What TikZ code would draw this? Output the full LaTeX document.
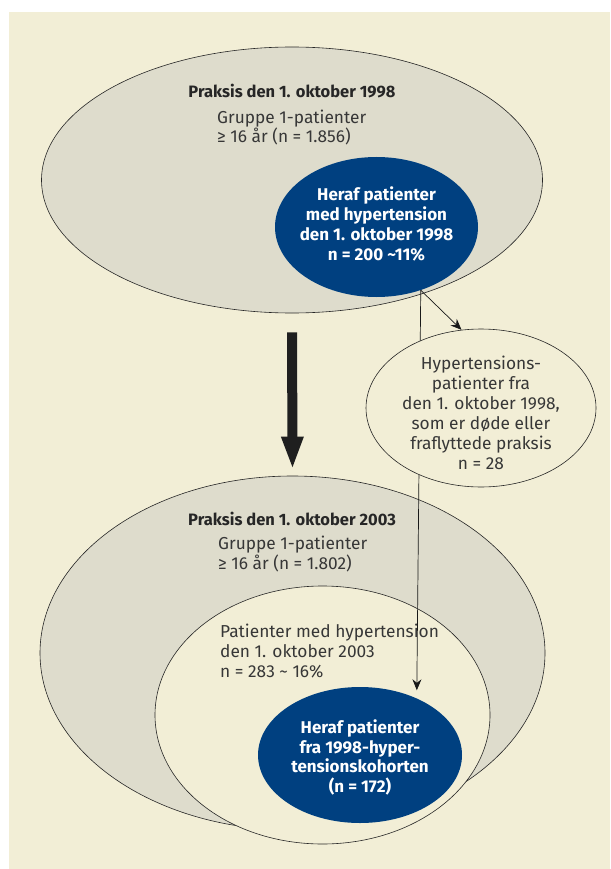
\documentclass[tikz,border=0pt]{standalone}
\usepackage{fontspec}
\setmainfont{Fira Sans}
\usetikzlibrary{shapes.geometric,arrows.meta}
\definecolor{creambg}{RGB}{242,238,214}
\definecolor{grayfill}{RGB}{222,220,204}
\definecolor{navy}{RGB}{0,64,128}
\definecolor{txtgray}{RGB}{55,55,55}

\begin{document}
\begin{tikzpicture}[x=1pt, y=-1pt,
outernode/.style={ellipse, draw=black!85, line width=0.6pt, fill=grayfill, inner sep=0pt},
innernode/.style={ellipse, draw=black!85, line width=0.6pt, fill=creambg, inner sep=0pt},
bluenode/.style={ellipse, fill=navy, inner sep=0pt},
headtext/.style={font=\bfseries\fontsize{16.5}{20}\selectfont, text=black!85, anchor=base, inner sep=0pt},
bodytext/.style={font=\fontsize{17.3}{20}\selectfont, text=txtgray, align=left, anchor=base west, inner sep=0pt},
bluetext/.style={font=\bfseries\fontsize{17}{20}\selectfont, text=white, align=center, anchor=base, inner sep=0pt},
thinarrow/.style={-{Stealth[length=11pt,width=9pt]}, line width=0.7pt, draw=black!90},
]
\useasboundingbox (0,0) rectangle (610,869);
\fill[white] (0,0) rectangle (610,869);
\fill[creambg] (9,12) rectangle (610,869);

%Nodes
\node[outernode, minimum width=501pt, minimum height=266pt] (prax98) at (292,180) {};
\node[bluenode, minimum width=203pt, minimum height=140pt]  (hyp98)  at (376.5,227) {};
\node[outernode, minimum width=505pt, minimum height=354pt] (prax03) at (292.5,653) {};
\node[innernode, minimum width=335pt, minimum height=258pt] (hyp03)  at (322.5,715) {};
\node[bluenode, minimum width=204pt, minimum height=136pt]  (coh03)  at (360,755) {};

% base anchor = last line
\node[headtext] (t98)  at (292,98)  {Praksis den 1. oktober 1998};
\node[bodytext] (g98)  at (217,143) {Gruppe 1-patienter\\≥ 16 år (n = 1.856)};
\node[bluetext] (b98)  at (376.5,260) {Heraf patienter\\med hypertension\\den 1. oktober 1998\\n = 200 \textasciitilde11\%};
\node[headtext] (t03)  at (292,525) {Praksis den 1. oktober 2003};
\node[bodytext] (g03)  at (218,569) {Gruppe 1-patienter\\≥ 16 år (n = 1.802)};
\node[bodytext] (h03)  at (220,677) {Patienter med hypertension\\den 1. oktober 2003\\n = 283 \textasciitilde{} 16\%};
\node[bluetext, font=\bfseries\fontsize{17}{19.5}\selectfont] (b03) at (360,792) {Heraf patienter\\fra 1998-hyper-\\tensionskohorten\\(n = 172)};

%Lines
\draw[line width=10pt, draw=black!88, -{Triangle[length=33pt,width=20pt]}, shorten <=19pt, shorten >=6pt] (prax98.south) -- (prax03.north);
\draw[thinarrow, shorten >=8pt] (hyp98.-55) -- (coh03.45);

\node[innernode, minimum width=230pt, minimum height=158pt] (dead) at (481,408) {};
\node[bodytext, align=center, anchor=base] (d98) at (481,469) {Hypertensions-\\patienter fra\\den 1. oktober 1998,\\som er døde eller\\fraflyttede praksis\\n = 28};

\draw[thinarrow] (hyp98.-55) -- (dead.104);
\end{tikzpicture}
\end{document}
